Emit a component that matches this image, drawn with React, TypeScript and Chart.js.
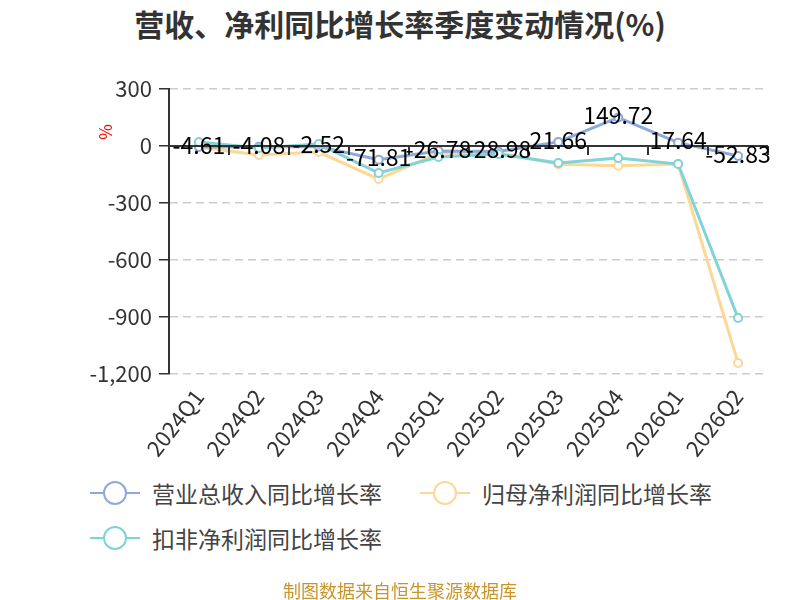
import { useEffect, useRef } from 'react'
import Chart from 'chart.js/auto'

const quarters = ['2024Q1', '2024Q2', '2024Q3', '2024Q4', '2025Q1', '2025Q2', '2025Q3', '2025Q4', '2026Q1', '2026Q2']
const revenueGrowth = [-4.61, -4.08, -2.52, -71.81, -26.78, -28.98, 21.66, 149.72, 17.64, -52.83]
const netProfitGrowth = [-5, -47, -32, -174, -38, -36, -96, -104, -95, -1142]
const deductedProfitGrowth = [21, -10, 10, -142, -58, -42, -89, -63, -95, -905]
const yTicks = [300, 0, -300, -600, -900, -1200]

const FONT = '"Noto Sans CJK SC", "Noto Sans", sans-serif'
const BLUE = '#8eaadc'
const ORANGE = '#fdd796'
const TEAL = '#80d3d6'

const legendItems = [
  { label: '营业总收入同比增长率', color: BLUE, left: 90, top: 493 },
  { label: '归母净利润同比增长率', color: ORANGE, left: 420, top: 493 },
  { label: '扣非净利润同比增长率', color: TEAL, left: 90, top: 538 },
]

// zero line with category ticks, axis name and value labels
const overlay = {
  id: 'overlay',
  afterDatasetsDraw(chart: any) {
    const { ctx, chartArea, scales } = chart
    const x = scales.x
    const y = scales.y
    const y0 = y.getPixelForValue(0)
    ctx.save()
    ctx.strokeStyle = '#333'
    ctx.lineWidth = 2
    ctx.beginPath()
    ctx.moveTo(chartArea.left, y0)
    ctx.lineTo(chartArea.right, y0)
    const step = (chartArea.right - chartArea.left) / quarters.length
    for (let i = 1; i <= quarters.length; i++) {
      const px = Math.round(chartArea.left + i * step)
      ctx.moveTo(px, y0)
      ctx.lineTo(px, y0 + 9)
    }
    ctx.stroke()

    ctx.fillStyle = '#000'
    ctx.font = `23px ${FONT}`
    ctx.textAlign = 'center'
    ctx.textBaseline = 'middle'
    revenueGrowth.forEach((v, i) => {
      ctx.fillText(v.toFixed(2), x.getPixelForValue(i), y.getPixelForValue(v) - 2)
    })

    ctx.translate(106, 132)
    ctx.rotate(-Math.PI / 2)
    ctx.fillStyle = '#ff0000'
    ctx.font = `17px ${FONT}`
    ctx.fillText('%', 0, 0)
    ctx.restore()
  },
}

const line = (label: string, data: number[], color: string, order: number) => ({
  label,
  data,
  order,
  borderColor: color,
  borderWidth: 3,
  pointRadius: 4,
  pointBorderWidth: 2,
  pointBackgroundColor: '#fff',
  pointBorderColor: color,
  tension: 0,
  fill: false,
})

export default function App() {
  const canvasRef = useRef<HTMLCanvasElement>(null)

  useEffect(() => {
    if (!canvasRef.current) return
    const chart = new Chart(canvasRef.current, {
      type: 'line',
      data: {
        labels: quarters,
        datasets: [
          line('营业总收入同比增长率', revenueGrowth, BLUE, 1),
          line('归母净利润同比增长率', netProfitGrowth, ORANGE, 2),
          line('扣非净利润同比增长率', deductedProfitGrowth, TEAL, 0),
        ],
      },
      options: {
        responsive: false,
        animation: false,
        layout: { padding: { top: 89, right: 32, left: 0, bottom: 0 } },
        plugins: { legend: { display: false }, tooltip: { enabled: false } },
        scales: {
          x: {
            offset: true,
            grid: { display: false },
            border: { display: false },
            ticks: {
              color: '#333',
              font: { size: 22, family: FONT },
              minRotation: 52,
              maxRotation: 52,
              autoSkip: false,
              padding: 2,
            },
            afterFit: (s: any) => { s.height = 96 },
          },
          y: {
            min: -1200,
            max: 300,
            afterBuildTicks: (s: any) => { s.ticks = yTicks.map((value) => ({ value })) },
            grid: {
              color: '#cccccc',
              lineWidth: 1.5,
              tickColor: '#333',
              tickLength: 10,
            },
            border: { color: '#333', width: 2, dash: [8, 5], display: true },
            ticks: {
              color: '#333',
              font: { size: 22, family: FONT },
              padding: 7,
              callback: (v: any) => Number(v).toLocaleString('en-US'),
            },
            afterFit: (s: any) => { s.width = 169 },
          },
        },
      },
      plugins: [overlay],
    })
    return () => { chart.destroy() }
  }, [])

  return (
    <div style={{ position: 'fixed', left: 0, top: 0, width: 800, height: 600, background: '#fff', fontFamily: FONT }}>
      <div style={{ position: 'absolute', top: 3, left: 0, width: 800, textAlign: 'center', fontSize: 30, fontWeight: 'bold', color: '#333', lineHeight: '40px' }}>
        营收、净利同比增长率季度变动情况(%)
      </div>
      <canvas ref={canvasRef} width={800} height={470} style={{ position: 'absolute', left: 0, top: 0, width: 800, height: 470 }} />
      {legendItems.map((it) => (
        <div key={it.label} style={{ position: 'absolute', left: it.left, top: it.top - 16, height: 32, display: 'flex', alignItems: 'center' }}>
          <div style={{ position: 'relative', width: 50, height: 32 }}>
            <div style={{ position: 'absolute', left: 0, top: 15, width: 50, height: 2, background: it.color }} />
            <div style={{ position: 'absolute', left: 13, top: 4, width: 20, height: 20, borderRadius: '50%', border: `2px solid ${it.color}`, background: '#fff' }} />
          </div>
          <span style={{ marginLeft: 12, fontSize: 23, color: '#444', whiteSpace: 'nowrap' }}>{it.label}</span>
        </div>
      ))}
      <div style={{ position: 'absolute', top: 578, left: 0, width: 800, textAlign: 'center', fontSize: 18, color: '#c9952b', lineHeight: '24px' }}>
        制图数据来自恒生聚源数据库
      </div>
    </div>
  )
}
